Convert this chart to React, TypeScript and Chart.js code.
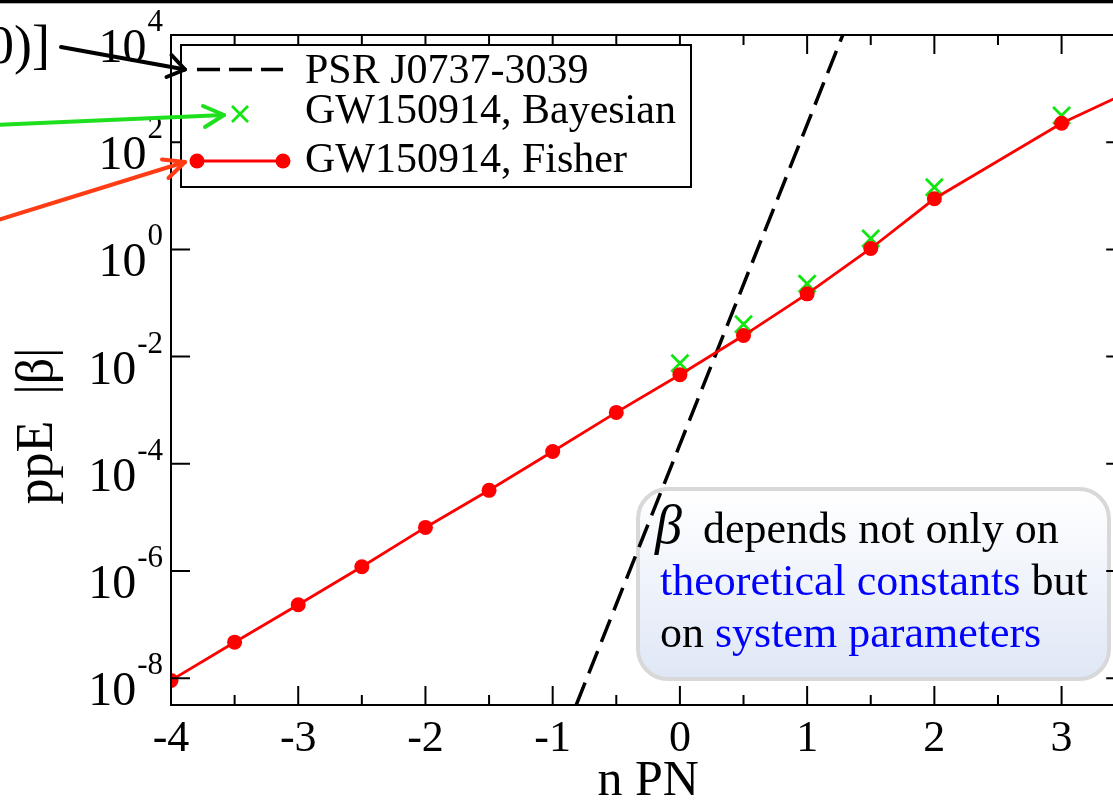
import React, { useEffect, useRef } from 'react';
import { Chart, registerables } from 'chart.js';

Chart.register(...registerables);

// ---- data ----
const fisherN = [-4, -3.5, -3, -2.5, -2, -1.5, -1, -0.5, 0, 0.5, 1, 1.5, 2, 3, 3.5];
const fisherBeta = [9.1e-9, 4.7e-8, 2.35e-7, 1.2e-6, 6.5e-6, 3.2e-5, 1.7e-4, 9.1e-4, 4.6e-3, 0.0247, 0.148, 1.04, 8.8, 226, 810];
const bayesN = [0, 0.5, 1, 1.5, 2, 3];
const bayesBeta = [7.5e-3, 0.04, 0.228, 1.6, 14.5, 315];
const psrN = [-0.815, 1.28];
const psrBeta = [3.16e-9, 1e4];

const xMajorTicks = [-4, -3, -2, -1, 0, 1, 2, 3];
const xMinorTicks = [-3.5, -2.5, -1.5, -0.5, 0.5, 1.5, 2.5, 3.5];
const yTickExponents = [4, 2, 0, -2, -4, -6, -8];
const legendLabels = ['PSR J0737-3039', 'GW150914, Bayesian', 'GW150914, Fisher'];
const xTitle = 'n PN';
const yTitle = 'ppE  |β|';
const noteLine1 = 'depends not only on';
const noteLine2 = ['theoretical constants', ' but'];
const noteLine3 = ['on ', 'system parameters'];
const cutText = '0)]';

const RED = '#ff0000';
const GREEN = '#11e611';
const BLUE = '#0000ff';
const SERIF = '"Liberation Serif", "Times New Roman", serif';

function roundRectPath(ctx: CanvasRenderingContext2D, x: number, y: number, w: number, h: number, r: number) {
  ctx.beginPath();
  ctx.moveTo(x + r, y);
  ctx.lineTo(x + w - r, y);
  ctx.arcTo(x + w, y, x + w, y + r, r);
  ctx.lineTo(x + w, y + h - r);
  ctx.arcTo(x + w, y + h, x + w - r, y + h, r);
  ctx.lineTo(x + r, y + h);
  ctx.arcTo(x, y + h, x, y + h - r, r);
  ctx.lineTo(x, y + r);
  ctx.arcTo(x, y, x + r, y, r);
  ctx.closePath();
}

function arrow(ctx: CanvasRenderingContext2D, color: string, x0: number, y0: number, x1: number, y1: number, h1: number[], h2: number[]) {
  ctx.save();
  ctx.strokeStyle = color;
  ctx.lineWidth = 4;
  ctx.lineCap = 'round';
  ctx.lineJoin = 'round';
  ctx.beginPath();
  ctx.moveTo(x0, y0);
  ctx.lineTo(x1, y1);
  ctx.stroke();
  ctx.beginPath();
  ctx.moveTo(h1[0], h1[1]);
  ctx.lineTo(x1, y1);
  ctx.lineTo(h2[0], h2[1]);
  ctx.stroke();
  ctx.restore();
}

const overlayPlugin = {
  id: 'overlay',
  beforeDatasetsDraw(chart: any) {
    const ctx: CanvasRenderingContext2D = chart.ctx;
    ctx.save();
    // annotation box
    const bx = 638, by = 489, bw = 471, bh = 190;
    const g = ctx.createLinearGradient(0, by, 0, by + bh);
    g.addColorStop(0, '#ffffff');
    g.addColorStop(1, '#dfe7f6');
    roundRectPath(ctx, bx, by, bw, bh, 30);
    ctx.fillStyle = g;
    ctx.fill();
    ctx.lineWidth = 4;
    ctx.strokeStyle = '#d8d8d8';
    ctx.stroke();

    ctx.textAlign = 'left';
    ctx.textBaseline = 'alphabetic';
    ctx.fillStyle = '#000';
    ctx.font = 'italic 54px ' + SERIF;
    ctx.fillText('β', 655, 543);
    ctx.font = '44px ' + SERIF;
    ctx.fillText(noteLine1, 703, 543);
    let x = 660;
    ctx.fillStyle = BLUE;
    ctx.fillText(noteLine2[0], x, 595);
    x += ctx.measureText(noteLine2[0]).width;
    ctx.fillStyle = '#000';
    ctx.fillText(noteLine2[1], x, 595);
    x = 660;
    ctx.fillStyle = '#000';
    ctx.fillText(noteLine3[0], x, 647);
    x += ctx.measureText(noteLine3[0]).width;
    ctx.fillStyle = BLUE;
    ctx.fillText(noteLine3[1], x, 647);
    ctx.restore();
  },
  afterDraw(chart: any) {
    const ctx: CanvasRenderingContext2D = chart.ctx;
    const { left, right, top, bottom } = chart.chartArea;
    const xs = chart.scales.x;
    const ys = chart.scales.y;
    ctx.save();
    ctx.strokeStyle = '#000';
    ctx.fillStyle = '#000';
    ctx.lineWidth = 2;
    ctx.setLineDash([]);
    // frame
    ctx.strokeRect(left, top, right - left, bottom - top);
    // ticks
    ctx.beginPath();
    for (const e of yTickExponents) {
      const y = ys.getPixelForValue(Math.pow(10, e));
      ctx.moveTo(left, y); ctx.lineTo(left + 19, y);
      ctx.moveTo(right, y); ctx.lineTo(right - 19, y);
    }
    for (const v of xMajorTicks) {
      const x = xs.getPixelForValue(v);
      ctx.moveTo(x, bottom); ctx.lineTo(x, bottom - 19);
      ctx.moveTo(x, top); ctx.lineTo(x, top + 19);
    }
    for (const v of xMinorTicks) {
      const x = xs.getPixelForValue(v);
      ctx.moveTo(x, bottom); ctx.lineTo(x, bottom - 10);
      ctx.moveTo(x, top); ctx.lineTo(x, top + 10);
    }
    ctx.stroke();

    // y tick labels 10^e
    ctx.textBaseline = 'alphabetic';
    ctx.textAlign = 'right';
    for (const e of yTickExponents) {
      const y = ys.getPixelForValue(Math.pow(10, e));
      const sup = String(e);
      ctx.font = '31px ' + SERIF;
      const sw = ctx.measureText(sup).width;
      ctx.fillText(sup, 163, y - 4);
      ctx.font = '48px ' + SERIF;
      ctx.fillText('10', 163 - sw - 1, y + 27);
    }
    // x tick labels
    ctx.textAlign = 'center';
    ctx.font = '44px ' + SERIF;
    for (const v of xMajorTicks) {
      const x = xs.getPixelForValue(v);
      ctx.fillText(String(v), x, 751);
    }
    // axis titles
    ctx.font = '50px ' + SERIF;
    ctx.fillText(xTitle, (left + right) / 2, 795);
    ctx.save();
    ctx.translate(52, 426);
    ctx.rotate(-Math.PI / 2);
    ctx.font = '52px ' + SERIF;
    ctx.fillText(yTitle, 0, 0);
    ctx.restore();

    // legend
    ctx.fillStyle = '#fff';
    ctx.fillRect(181, 45, 510, 142);
    ctx.strokeStyle = '#000';
    ctx.lineWidth = 2;
    ctx.strokeRect(181, 45, 510, 142);
    // PSR symbol
    ctx.lineWidth = 3.5;
    ctx.setLineDash([23, 9]);
    ctx.beginPath();
    ctx.moveTo(197, 69.5); ctx.lineTo(283, 69.5);
    ctx.stroke();
    ctx.setLineDash([]);
    // Bayesian symbol
    ctx.strokeStyle = GREEN;
    ctx.lineWidth = 2.8;
    ctx.beginPath();
    ctx.moveTo(232, 106); ctx.lineTo(248, 122);
    ctx.moveTo(248, 106); ctx.lineTo(232, 122);
    ctx.stroke();
    // Fisher symbol
    ctx.strokeStyle = RED;
    ctx.fillStyle = RED;
    ctx.lineWidth = 2.8;
    ctx.beginPath();
    ctx.moveTo(197, 161); ctx.lineTo(283, 161);
    ctx.stroke();
    for (const cx of [197, 283]) {
      ctx.beginPath();
      ctx.arc(cx, 161, 7.5, 0, Math.PI * 2);
      ctx.fill();
    }
    ctx.fillStyle = '#000';
    ctx.textAlign = 'left';
    ctx.font = '42px ' + SERIF;
    ctx.fillText(legendLabels[0], 305, 83);
    ctx.fillText(legendLabels[1], 305, 123);
    ctx.fillText(legendLabels[2], 305, 172);

    // cut-off slide text
    ctx.textAlign = 'right';
    ctx.font = '54px ' + SERIF;
    ctx.fillText(cutText, 50, 63);

    // arrows
    arrow(ctx, '#000', 61, 47, 185, 69.5, [166.5, 77], [171.5, 55]);
    arrow(ctx, '#1ee01e', -5, 125, 224, 115, [203, 106], [205, 127]);
    arrow(ctx, '#ff3c14', -5, 221, 185, 162, [162, 159.5], [168.5, 178]);

    // top slide border
    ctx.fillStyle = '#000';
    ctx.fillRect(0, 0, chart.width, 3.3);
    ctx.restore();
  },
};

export default function App() {
  const ref = useRef<HTMLCanvasElement>(null);
  useEffect(() => {
    if (!ref.current) return;
    const chart = new Chart(ref.current, {
      type: 'scatter',
      data: {
        datasets: [
          {
            label: legendLabels[2],
            data: fisherN.map((x, i) => ({ x, y: fisherBeta[i] })),
            showLine: true,
            borderColor: RED,
            backgroundColor: RED,
            borderWidth: 2.8,
            pointRadius: 7.5,
            pointBorderWidth: 0,
            pointStyle: 'circle',
            order: 1,
          },
          {
            label: legendLabels[1],
            data: bayesN.map((x, i) => ({ x, y: bayesBeta[i] })),
            showLine: false,
            borderColor: GREEN,
            backgroundColor: GREEN,
            pointStyle: 'crossRot',
            pointRadius: 12,
            pointBorderWidth: 2.8,
            order: 2,
          },
          {
            label: legendLabels[0],
            data: psrN.map((x, i) => ({ x, y: psrBeta[i] })),
            showLine: true,
            borderColor: '#000',
            backgroundColor: '#000',
            borderWidth: 3.5,
            borderDash: [24, 10],
            pointRadius: 0,
            order: 3,
          },
        ],
      } as any,
      options: {
        responsive: false,
        animation: false,
        events: [],
        layout: { padding: { left: 171, top: 35, right: 14, bottom: 95 } },
        scales: {
          x: { type: 'linear', min: -4, max: 3.5, display: false },
          y: { type: 'logarithmic', min: 3.1623e-9, max: 1e4, display: false },
        },
        plugins: { legend: { display: false }, tooltip: { enabled: false } },
      } as any,
      plugins: [overlayPlugin as any],
    });
    return () => chart.destroy();
  }, []);
  return (
    <div style={{ position: 'fixed', left: 0, top: 0, width: 1113, height: 800, overflow: 'hidden', background: '#fff' }}>
      <canvas ref={ref} width={1140} height={800} style={{ display: 'block', width: 1140, height: 800 }} />
    </div>
  );
}
